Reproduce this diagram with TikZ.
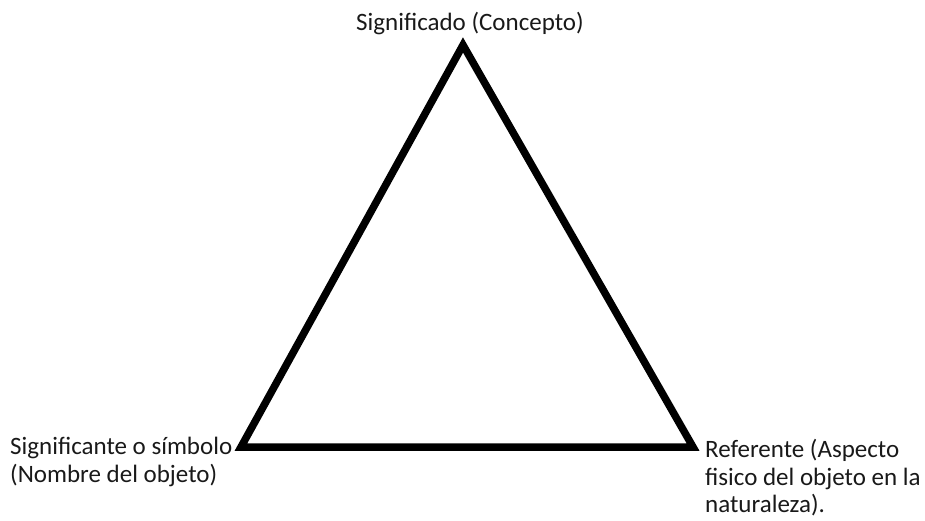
\documentclass[tikz,border=0pt]{standalone}
\usepackage{fontspec}
\setmainfont{Carlito}

\begin{document}
\begin{tikzpicture}[x=1pt, y=1pt]

    % Frame of the picture
    \useasboundingbox (0,0) rectangle (925,520);

    % Styles
    \tikzset{
        side/.style={line width=7.5pt, line join=miter, line cap=rect},
        label/.style={font=\fontsize{25}{27.5}\selectfont, text=black!90, inner sep=0pt, align=left}
    }

    % Corners of the triangle
    \coordinate (significado) at (463, 475);
    \coordinate (significante) at (241, 73);
    \coordinate (referente) at (693, 73);

    % Triangle
    \draw[side] (significado) -- (significante) -- (referente) -- cycle;

    % Labels at the corners
    \node[label, anchor=base] (tsignificado) at (470, 489) {Significado (Concepto)};
    \node[label, anchor=west] (tsignificante) at (10, 58) {Significante o símbolo\\(Nombre del objeto)};
    \node[label, anchor=west] (treferente) at (705, 42) {Referente (Aspecto\\fisico del objeto en la\\naturaleza).};

\end{tikzpicture}
\end{document}
